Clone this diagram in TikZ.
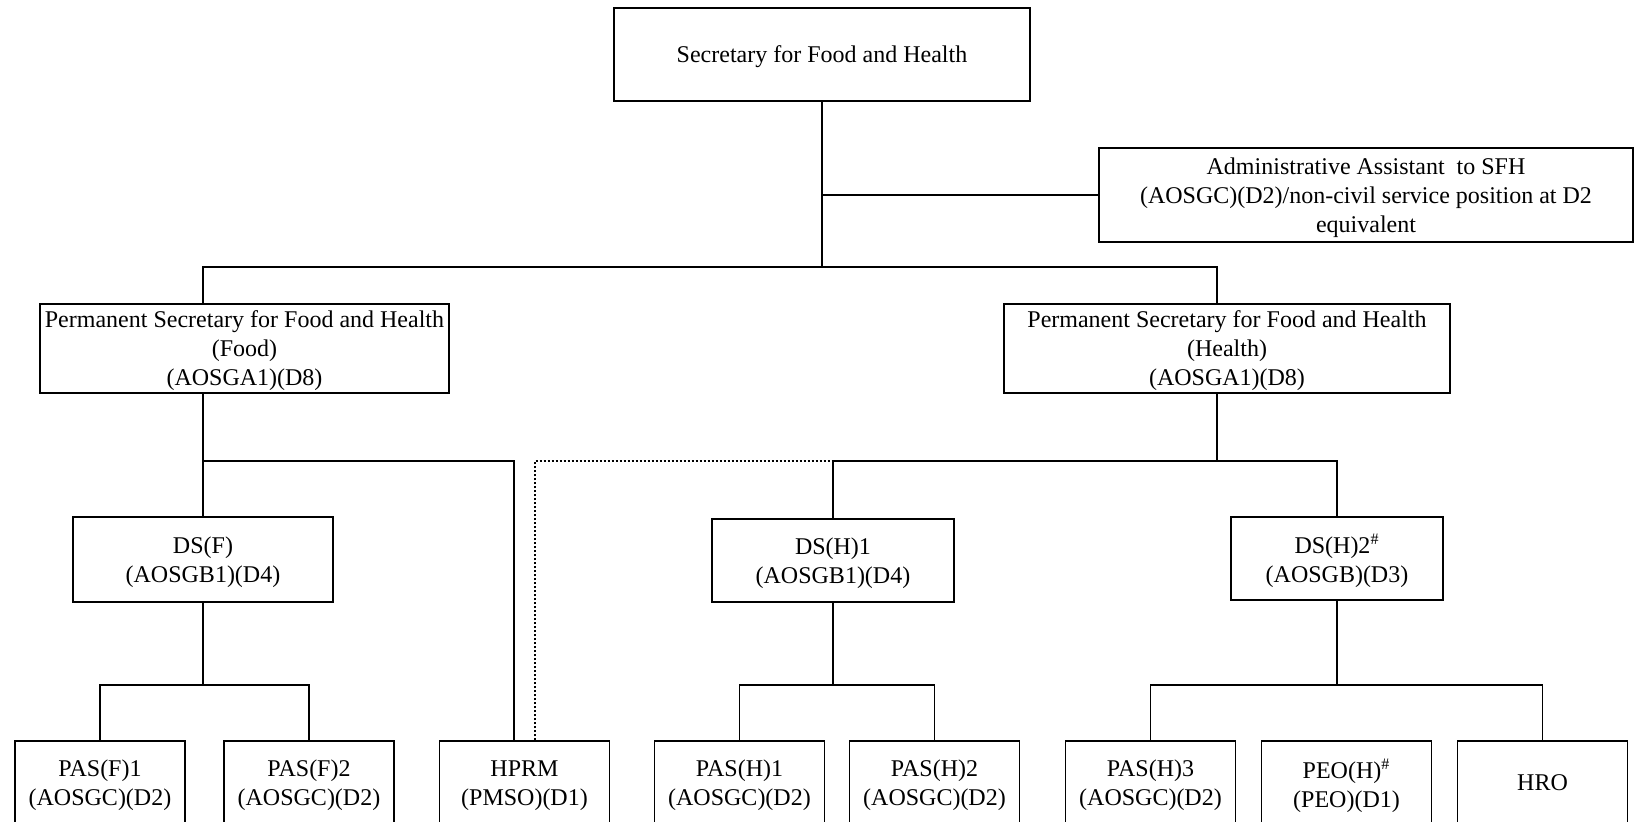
\documentclass[tikz,border=0pt]{standalone}
\usepackage{fontspec}
\setmainfont{Liberation Serif}
\usepackage{tikz}

\begin{document}
\begin{tikzpicture}[x=0.5pt, y=-0.5pt, font=\fontsize{12}{14.5}\selectfont,
  unit/.style={draw, align=center, inner sep=0pt, line width=0.6pt, text depth=-2pt},
  post/.style={unit, minimum width=85pt, minimum height=42pt},
  link/.style={draw, line width=0.6pt},
  dotlink/.style={link, dash pattern=on 1.2pt off 0.8pt}]
  \useasboundingbox (0,0) rectangle (1635,822);

  \node[unit, minimum width=208pt, minimum height=46.5pt] (sfh) at (822,54.5) {Secretary for Food and Health};
  \node[unit, minimum width=267pt, minimum height=47pt] (aa) at (1366,195)
    {Administrative Assistant\ \ to SFH\\(AOSGC)(D2)/non-civil service position at D2\\equivalent};
  \node[unit, minimum width=204.5pt, minimum height=44.5pt] (psf) at (244.5,348.5)
    {Permanent Secretary for Food and Health\\(Food)\\(AOSGA1)(D8)};
  \node[unit, minimum width=223pt, minimum height=44.5pt] (psh) at (1227,348.5)
    {Permanent Secretary for Food and Health\\(Health)\\(AOSGA1)(D8)};
  \node[unit, minimum width=130pt, minimum height=42.5pt] (dsf) at (203,559.5) {DS(F)\\(AOSGB1)(D4)};
  \node[unit, minimum width=121pt, minimum height=41.5pt] (dsh1) at (833,560.5) {DS(H)1\\(AOSGB1)(D4)};
  \node[unit, minimum width=106pt, minimum height=41.5pt] (dsh2) at (1337,558.5) {DS(H)2\textsuperscript{\#}\\(AOSGB)(D3)};

  \node[post] (pasf1) at (100,783) {PAS(F)1\\(AOSGC)(D2)};
  \node[post] (pasf2) at (309,783) {PAS(F)2\\(AOSGC)(D2)};
  \node[post] (hprm) at (524.5,783) {HPRM\\(PMSO)(D1)};
  \node[post] (pash1) at (739.5,783) {PAS(H)1\\(AOSGC)(D2)};
  \node[post] (pash2) at (934.5,783) {PAS(H)2\\(AOSGC)(D2)};
  \node[post] (pash3) at (1150.5,783) {PAS(H)3\\(AOSGC)(D2)};
  \node[post] (peoh) at (1346.5,783) {PEO(H)\textsuperscript{\#}\\(PEO)(D1)};
  \node[post] (hro) at (1542.5,783) {HRO};

  \coordinate (bus0) at (0,267);
  \coordinate (busps) at (0,461);
  \coordinate (busds) at (0,685);
  \coordinate (fcol) at (203,0);
  \coordinate (hcol) at (1217,0);
  \coordinate (hprml) at (514,0);
  \coordinate (hprmr) at (535,0);

  \path[link] (sfh.south) -- (sfh.south |- bus0);
  \path[link] (sfh.south |- aa.west) -- (aa.west);
  \path[link] (fcol |- psf.north) -- (fcol |- bus0) -- (hcol |- bus0) -- (hcol |- psh.north);

  \path[link] (fcol |- psf.south) -- (dsf.north);
  \path[link] (fcol |- busps) -- (hprml |- busps) -- (hprml |- hprm.north);
  \path[link] (hcol |- psh.south) -- (hcol |- busps);
  \path[link] (dsh1.north) -- (dsh1.north |- busps) -- (dsh2.north |- busps) -- (dsh2.north);
  \path[dotlink] (hprmr |- hprm.north) -- (hprmr |- busps) -- (dsh1.north |- busps);

  \path[link] (dsf.south) -- (dsf.south |- busds);
  \path[link] (pasf1.north) -- (pasf1.north |- busds) -- (pasf2.north |- busds) -- (pasf2.north);
  \path[link] (dsh1.south) -- (dsh1.south |- busds);
  \path[link] (pash1.north) -- (pash1.north |- busds) -- (pash2.north |- busds) -- (pash2.north);
  \path[link] (dsh2.south) -- (dsh2.south |- busds);
  \path[link] (pash3.north) -- (pash3.north |- busds) -- (hro.north |- busds) -- (hro.north);
\end{tikzpicture}
\end{document}
